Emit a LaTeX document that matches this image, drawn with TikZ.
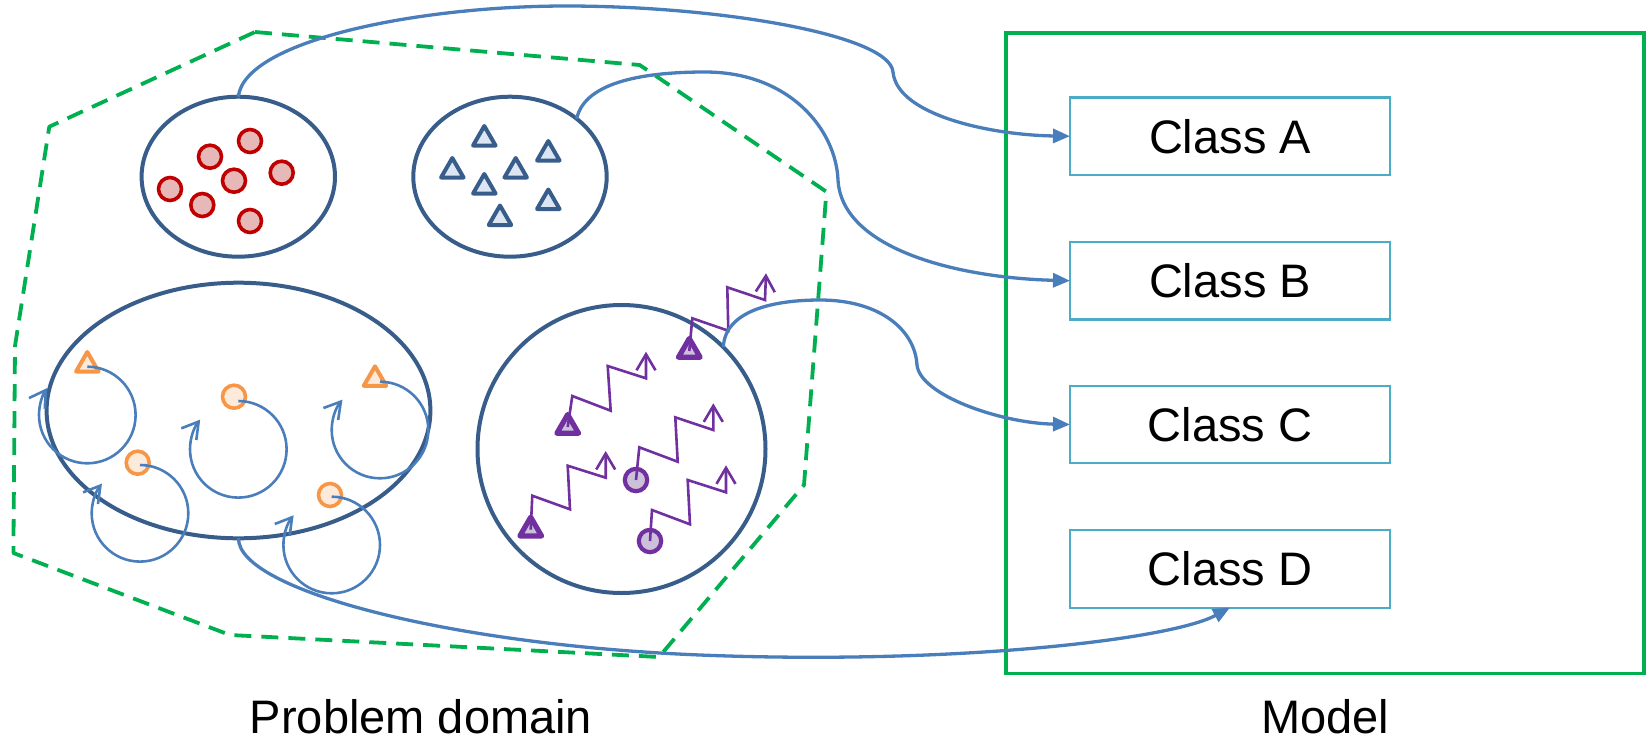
\documentclass[tikz,border=0pt]{standalone}
\usepackage{fontspec}
\setmainfont{Liberation Sans}
\usetikzlibrary{shapes.geometric,arrows.meta}
\definecolor{ellblue}{HTML}{385D8A}
\definecolor{conblue}{HTML}{4A7EBB}
\definecolor{grn}{HTML}{00B050}
\definecolor{boxblue}{HTML}{4BACC6}
\definecolor{redS}{HTML}{C00000}
\definecolor{redF}{HTML}{E6B9B8}
\definecolor{triF}{HTML}{DCE6F2}
\definecolor{orS}{HTML}{F79646}
\definecolor{orF}{HTML}{FDEADA}
\definecolor{purp}{HTML}{7030A0}
\definecolor{puF}{HTML}{CCC1DA}
\begin{document}
\begin{tikzpicture}[x=0.5pt,y=-0.5pt,
  every node/.style={inner sep=0pt, outer sep=0pt},
  group/.style={draw=ellblue, line width=2pt},
  cls/.style={draw=boxblue, line width=1.1pt, minimum width=160pt, minimum height=38.8pt, font=\fontsize{23.5}{28}\selectfont},
  lbl/.style={font=\fontsize{23.5}{28}\selectfont, anchor=base},
  conn/.style={draw=conblue, line width=1.65pt, -{Triangle[length=8.5pt,width=7pt]}},
  spiral/.style={draw=conblue, line width=1.3pt, -{Straight Barb[length=8pt,width=9.5pt]}},
  zig/.style={draw=purp, line width=1.3pt, -{Straight Barb[length=8pt,width=9.5pt]}},
  redobj/.style={circle, draw=redS, fill=redF, line width=1.8pt, minimum size=11.5pt},
  blutri/.style={regular polygon, regular polygon sides=3, draw=ellblue, fill=triF, line width=2pt, line join=round, minimum size=13pt},
  orcirc/.style={circle, draw=orS, fill=orF, line width=1.8pt, minimum size=11.5pt},
  ortri/.style={regular polygon, regular polygon sides=3, draw=orS, fill=orF, line width=2pt, line join=round, minimum size=13pt},
  pucirc/.style={circle, draw=purp, fill=puF, line width=2.1pt, minimum size=11.2pt},
  putri/.style={regular polygon, regular polygon sides=3, draw=purp, fill=puF, line width=2.6pt, line join=round, minimum size=12.5pt},
  pdborder/.style={draw=grn, line width=1.9pt, dash pattern=on 8.5pt off 5pt, line join=round},
]
\useasboundingbox (0,0) rectangle (1646,740);

% problem domain boundary
\draw[pdborder] (255,32) -- (639.7,65) -- (826.4,191.7) -- (804,485) -- (659,657) -- (230,635) -- (13.4,553) -- (15,346) -- (49.3,126.7) -- cycle;

% model container
\node[draw=grn, line width=1.8pt, minimum width=319.15pt, minimum height=320.15pt] (model) at (1324.85,353.15) {};

% classes
\node[cls] (clsA) at (1230,136.2) {Class A};
\node[cls] (clsB) at (1230,280.7) {Class B};
\node[cls] (clsC) at (1230,424.5) {Class C};
\node[cls] (clsD) at (1230,568.8) {Class D};

% labels
\node[lbl] (pd) at (421,733) {Problem domain};
\node[lbl] (ml) at (1325,733) {Model};

% groups
\node[group, ellipse, minimum width=96.7pt, minimum height=80pt] (e1) at (238.3,176.7) {};
\node[group, ellipse, minimum width=96.7pt, minimum height=80pt] (e2) at (510,176.7) {};
\node[group, ellipse, minimum width=191.9pt, minimum height=127.8pt] (e3) at (238.5,410.5) {};
\node[group, circle, minimum size=144pt] (e4) at (621.5,449) {};

% red circles
\node[redobj] (r1) at (250,141) {};
\node[redobj] (r2) at (210,156.7) {};
\node[redobj] (r3) at (281.7,172.7) {};
\node[redobj] (r4) at (234,180.7) {};
\node[redobj] (r5) at (170,189) {};
\node[redobj] (r6) at (202.3,205) {};
\node[redobj] (r7) at (250,221) {};

% blue triangles
\node[blutri] (b1) at (484.3,139) {};
\node[blutri] (b2) at (548.3,154) {};
\node[blutri] (b3) at (452.3,171) {};
\node[blutri] (b4) at (515.7,171) {};
\node[blutri] (b5) at (484.3,187) {};
\node[blutri] (b6) at (548.3,202.5) {};
\node[blutri] (b7) at (500,218.5) {};

% orange objects
\node[ortri] (t1) at (87.3,365) {};
\node[ortri] (t2) at (375,379.3) {};
\node[orcirc] (o1) at (137.7,462.7) {};
\node[orcirc] (o2) at (234,396.7) {};
\node[orcirc] (o3) at (330,495) {};

% spirals
\draw[spiral] ([shift={(0,1.7)}]t1.center) arc[start angle=-90, end angle=214, radius=48.3];
\draw[spiral] ([shift={(2.3,2.3)}]o1.center) arc[start angle=-90, end angle=218, radius=48.3];
\draw[spiral] ([shift={(4.3,4.3)}]o2.center) arc[start angle=-90, end angle=218, radius=48.3];
\draw[spiral] ([shift={(5,2.4)}]t2.center) arc[start angle=-90, end angle=219, radius=48.3];
\draw[spiral] ([shift={(1.7,1.7)}]o3.center) arc[start angle=-90, end angle=218, radius=48.3];

% purple objects
\node[putri] (p1) at (689.3,351) {};
\node[putri] (p2) at (567.7,427) {};
\node[putri] (p3) at (530.7,529.7) {};
\node[pucirc] (q1) at (636,480) {};
\node[pucirc] (q2) at (650,541) {};

% zigzags
\draw[zig] (p1.center) -- (692.3,318.3) -- (728.3,330.7) -- (727.3,287.3) -- (765,300) -- (766,273.3);
\draw[zig] (p2.center) -- (572.3,396) -- (610.7,410.7) -- (607.7,366) -- (646,378.3) -- (646,351.7);
\draw[zig] (p3.center) -- (532.3,495.7) -- (570,509.3) -- (567.7,465.7) -- (605.7,477.7) -- (605.7,451);
\draw[zig] (q1.center) -- (639.3,447.3) -- (677.7,461.7) -- (675.3,417.3) -- (713.3,430) -- (713.3,403.3);
\draw[zig] (q2.center) -- (652,510) -- (690,524.3) -- (687.7,480) -- (726,492.3) -- (726,465.3);

% connectors
\draw[conn] (e1.north) .. controls (245,40) and (420,6) .. (566,6) .. controls (720,6) and (890,35) .. (893,72) .. controls (897,115) and (990,135) .. (clsA.west);
\draw[conn] (e2.41) .. controls (585,80) and (650,72) .. (705,72) .. controls (790,72) and (836,130) .. (838,180) .. controls (842,250) and (960,278) .. (clsB.west);
\draw[conn] (e4.45) .. controls (725,310) and (775,300) .. (820,300) .. controls (880,300) and (915,330) .. (917,365) .. controls (920,395) and (1000,423) .. (clsC.west);
\draw[conn] (e3.south) .. controls (238,590) and (450,645) .. (700,655) .. controls (950,665) and (1170,640) .. (clsD.south);
\end{tikzpicture}
\end{document}
